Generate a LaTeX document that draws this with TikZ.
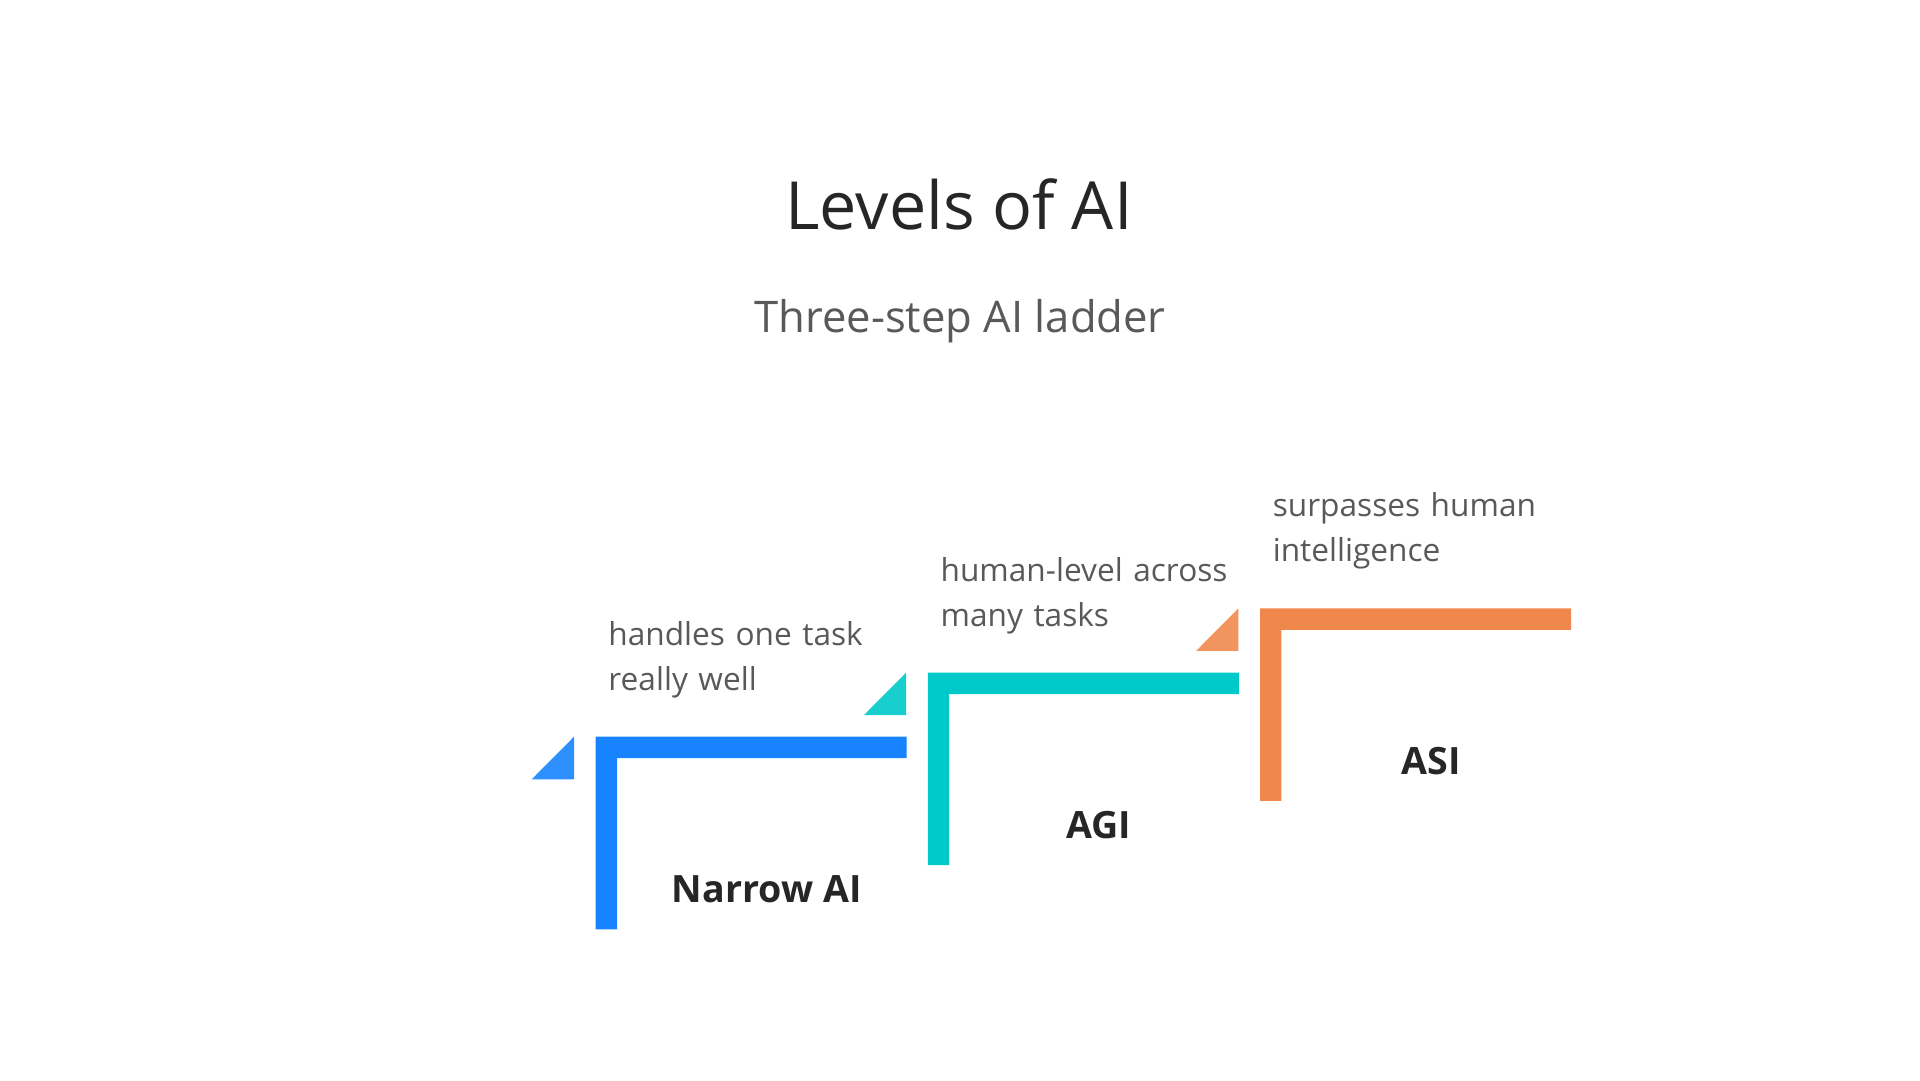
\documentclass[tikz,border=0pt]{standalone}
\usepackage{fontspec}
\setmainfont{Open Sans}
\usepackage{tikz}
\usetikzlibrary{positioning,calc}
\definecolor{stepblue}{HTML}{1783FF}
\definecolor{stepteal}{HTML}{00C9C9}
\definecolor{steporange}{HTML}{F0884D}
\definecolor{titlegray}{HTML}{262626}
\definecolor{descgray}{HTML}{595959}
\newcommand{\stepbar}[3]{%
  \fill[#1] (#2,#3) -- ++(311,0) -- ++(0,21.5) -- ++(-289.7,0) -- ++(0,171.1) -- ++(-21.3,0) -- cycle;
  \fill[#1,opacity=.9] (#2,#3) ++(-21.7,0) -- ++(0,42.6) -- ++(-42.3,0) -- cycle;
}
\begin{document}
\begin{tikzpicture}[x=0.1mm,y=-0.1mm,
  titletext/.style={text=titlegray,inner sep=0pt,anchor=base,font=\fontsize{18.9pt}{22pt}\selectfont},
  subtext/.style={text=descgray,inner sep=0pt,anchor=base,font=\fontsize{12.4pt}{15pt}\selectfont},
  desctext/.style={text=descgray,inner sep=0pt,anchor=base west,text width=3.4cm,align=left,font=\fontsize{9pt}{12.8pt}\selectfont},
  steplabel/.style={text=titlegray,inner sep=0pt,anchor=base,font=\fontsize{10.7pt}{12pt}\selectfont\bfseries}]
  \useasboundingbox (0,0) rectangle (1920,1080);
  \node[titletext] (title) at (959,229.3) {Levels of AI};
  \node[subtext] (subtitle) at (960,332.7) {Three-step AI ladder};
  \foreach \i/\col/\lbl/\lineA/\lineB in {0/stepblue/Narrow AI/handles one task/really well,
      1/stepteal/AGI/human-level across/many tasks,
      2/steporange/ASI/surpasses human/intelligence} {
    \pgfmathsetmacro{\xo}{595.7+332.2*\i}
    \pgfmathsetmacro{\yo}{736.7-64.2*\i}
    \stepbar{\col}{\xo}{\yo}
    \node[desctext] (desc\i) at (\xo+12,\yo-91.5) {\lineA\\\lineB};
    \node[steplabel] (label\i) at (\xo+171,\yo+166) {\lbl};
  }
\end{tikzpicture}
\end{document}
